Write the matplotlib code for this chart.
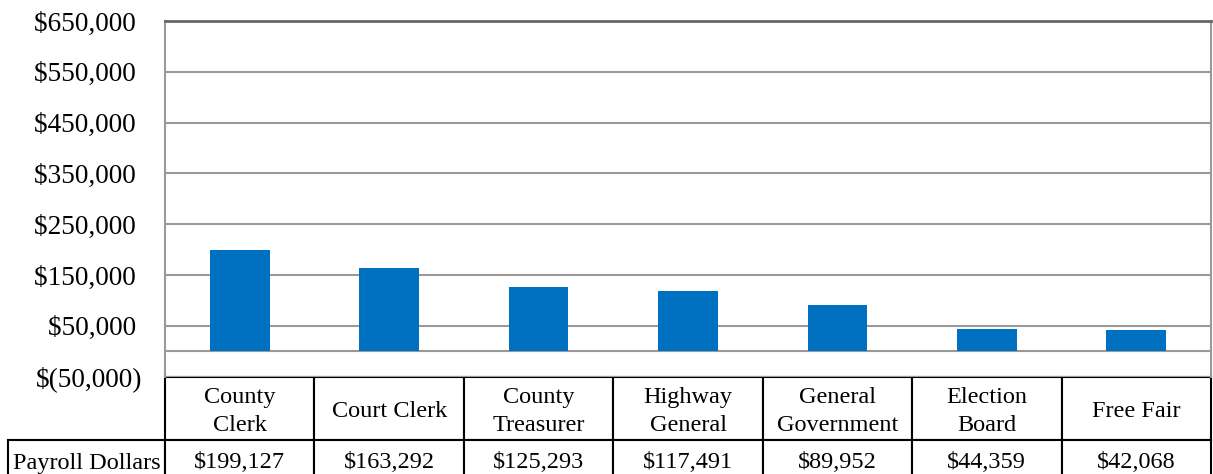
import numpy as np
import matplotlib
matplotlib.use('Agg')
import matplotlib.pyplot as plt
from matplotlib.ticker import FuncFormatter
from matplotlib.transforms import Affine2D

# payroll by office
categories = ['County\nClerk', 'Court Clerk', 'County\nTreasurer', 'Highway\nGeneral',
              'General\nGovernment', 'Election\nBoard', 'Free Fair']
payroll = [199127, 163292, 125293, 117491, 89952, 44359, 42068]
row_label = 'Payroll Dollars'
y_ticks = [-50000, 50000, 150000, 250000, 350000, 450000, 550000, 650000]

plt.rcParams['font.family'] = ['Liberation Serif', 'DejaVu Serif']

W, H = 1213, 474
AX_W, AX_H = 1046, 355.5
fig = plt.figure(figsize=(W / 100, H / 100), dpi=100)
ax = fig.add_axes([165 / W, 97.5 / H, AX_W / W, AX_H / H])

x = np.arange(len(payroll))
ax.bar(x, payroll, width=0.4, color='#0070C0', zorder=3)
ax.set_xlim(-0.5, len(payroll) - 0.5)
ax.set_ylim(-50000, 650000)
ax.set_yticks(y_ticks)

def money(v, pos):
    if v < 0:
        return '$({:,.0f})'.format(-v)
    return '${:,.0f} '.format(v)

ax.yaxis.set_major_formatter(FuncFormatter(money))
ax.tick_params(axis='y', length=0, pad=16, labelsize=19.6)
ax.set_xticks([])
ax.grid(axis='y', color='#999999', linewidth=1.5, zorder=1)
ax.axhline(0, color='#999999', linewidth=1.5, zorder=2)

for s in ['left', 'right']:
    ax.spines[s].set_color('#999999')
    ax.spines[s].set_linewidth(1.5)
ax.spines['top'].set_color('#666666')
ax.spines['top'].set_linewidth(2)
ax.spines['bottom'].set_visible(False)

# data table under the chart (row label cell added by hand so its width stays fixed)
# sizes in axes units so the bbox scaling stays at 1
cell_text = [['${:,.0f}'.format(v) for v in payroll]]
tbl = ax.table(cellText=cell_text, colLabels=categories, cellLoc='center',
               bbox=[0, -105 / AX_H, 1, 105 / AX_H])
tbl.add_cell(1, -1, width=157 / AX_W, height=42 / AX_H, text=row_label, loc='center')
tbl.auto_set_font_size(False)
tbl.set_fontsize(17.5)
for (r, c), cell in tbl.get_celld().items():
    cell.set_width((157 if c == -1 else AX_W / 7) / AX_W)
    cell.set_height((63 if r == 0 else 42) / AX_H)
    cell.set_edgecolor('black')
    cell.set_linewidth(1.5)
    txt = cell.get_text()
    if r == 0:
        txt.set_linespacing(1.45)
        # cell text sits in pixel coords; push the labels down a few pixels
        txt.set_transform(Affine2D().translate(0, -3.5))
    else:
        txt.set_verticalalignment('center_baseline')

plt.savefig('out.png', dpi=100)
